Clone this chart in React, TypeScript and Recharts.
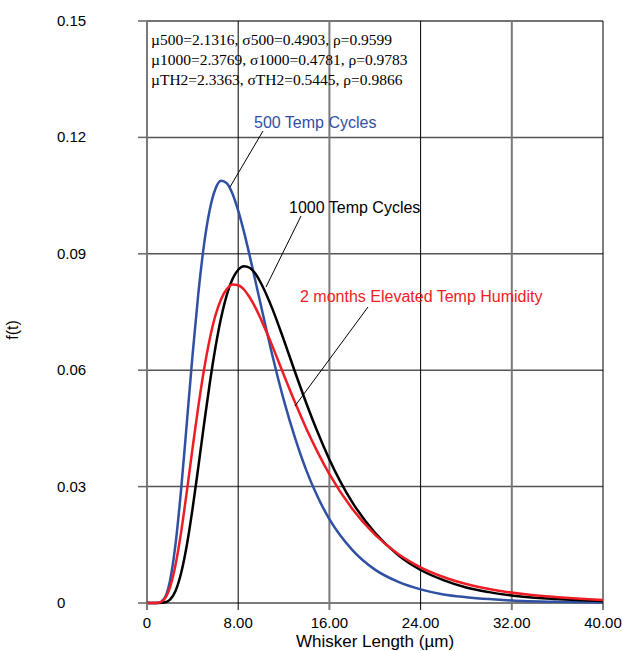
import { LineChart, Line, XAxis, YAxis, ReferenceLine } from "recharts";

// whisker length (µm) and lognormal pdf values
const X_VALUES = [
  0, 0.5, 1, 1.5, 2, 2.5, 3, 3.5, 4, 4.5, 5, 5.5, 6, 6.5, 7, 7.5, 8, 8.5, 9,
  9.5, 10, 11, 12, 13, 14, 15, 16, 18, 20, 22, 24, 26, 28, 30, 33, 36, 40,
];
const CYCLES_500 = [
  0, 0, 0.00006, 0.0011, 0.0055, 0.0151, 0.0295, 0.0466, 0.0641, 0.0797,
  0.0923, 0.1013, 0.1067, 0.1088, 0.1082, 0.1055, 0.1011, 0.0957, 0.0896,
  0.0831, 0.0766, 0.0638, 0.0523, 0.0424, 0.034, 0.0272, 0.0216, 0.0137,
  0.0086, 0.0055, 0.0035, 0.0022, 0.0015, 0.001, 0.0005, 0.0003, 0.0001,
];
const CYCLES_1000 = [
  0, 0, 0, 0.0001, 0.0008, 0.0031, 0.0078, 0.015, 0.0244, 0.035, 0.046,
  0.0565, 0.0658, 0.0735, 0.0794, 0.0835, 0.0859, 0.0868, 0.0864, 0.0849,
  0.0824, 0.0758, 0.0678, 0.0594, 0.0513, 0.0438, 0.037, 0.026, 0.0181,
  0.0124, 0.0085, 0.0059, 0.004, 0.0028, 0.0016, 0.001, 0.0005,
];
const TH2_MONTHS = [
  0, 0, 0.00007, 0.0009, 0.0039, 0.0098, 0.0184, 0.0289, 0.04, 0.0506,
  0.0601, 0.068, 0.0741, 0.0783, 0.0809, 0.0821, 0.0819, 0.0808, 0.0788,
  0.0762, 0.0731, 0.0662, 0.0588, 0.0516, 0.0448, 0.0387, 0.0332, 0.0243,
  0.0176, 0.0127, 0.0092, 0.0067, 0.0049, 0.0036, 0.0023, 0.0015, 0.0008,
];
const X_TICKS = [0, 8, 16, 24, 32, 40];
const Y_TICKS = [0, 0.03, 0.06, 0.09, 0.12, 0.15];
const FIT_NOTES = [
  "µ500=2.1316, σ500=0.4903, ρ=0.9599",
  "µ1000=2.3769, σ1000=0.4781, ρ=0.9783",
  "µTH2=2.3363, σTH2=0.5445, ρ=0.9866",
];

const W = 622;
const H = 651;
const PLOT_LEFT = 147;
const PLOT_TOP = 21;
const PLOT_RIGHT = 603;
const PLOT_BOTTOM = 603;

const BLUE = "#3050a3";
const RED = "#ee1c24";
const SANS = "'Liberation Sans', Arial, sans-serif";
const SERIF = "'Liberation Serif', 'Times New Roman', serif";

const data = X_VALUES.map((x, i) => ({
  x,
  c500: CYCLES_500[i],
  c1000: CYCLES_1000[i],
  th2: TH2_MONTHS[i],
}));

const XTick = (props: any) => {
  const { x, payload } = props;
  const v = payload.value;
  const dark = v % 16 !== 0;
  return (
    <g>
      <line
        x1={x}
        x2={x}
        y1={PLOT_BOTTOM}
        y2={PLOT_BOTTOM + 7}
        stroke={dark ? "#000" : "#7a7a7a"}
        strokeWidth={dark ? 1 : 2}
      />
      <text
        x={x}
        y={PLOT_BOTTOM + 25}
        textAnchor="middle"
        fontFamily={SANS}
        fontSize={15}
        fill="#000"
      >
        {v === 0 ? "0" : v.toFixed(2)}
      </text>
    </g>
  );
};

const YTick = (props: any) => {
  const { y, payload } = props;
  const v = payload.value;
  return (
    <g>
      <line
        x1={PLOT_LEFT - 9}
        x2={PLOT_LEFT}
        y1={y}
        y2={y}
        stroke="#666"
        strokeWidth={1.5}
      />
      <text
        x={57}
        y={y + 5}
        textAnchor="start"
        fontFamily={SANS}
        fontSize={15}
        fill="#000"
      >
        {v === 0 ? "0" : v.toFixed(2)}
      </text>
    </g>
  );
};

export default function App() {
  return (
    <div
      style={{
        position: "absolute",
        left: 0,
        top: 0,
        width: W,
        height: H,
        background: "#fff",
      }}
    >
      <LineChart
        width={W}
        height={H}
        data={data}
        margin={{ top: PLOT_TOP, right: W - PLOT_RIGHT, bottom: 0, left: 57 }}
      >
        <XAxis
          dataKey="x"
          type="number"
          domain={[0, 40]}
          ticks={X_TICKS}
          height={H - PLOT_BOTTOM}
          axisLine={false}
          tickLine={false}
          tick={XTick}
        />
        <YAxis
          type="number"
          domain={[0, 0.15]}
          ticks={Y_TICKS}
          width={PLOT_LEFT - 57}
          axisLine={false}
          tickLine={false}
          tick={YTick}
        />
        {Y_TICKS.map((v) => (
          <ReferenceLine
            key={`h-${v}`}
            y={v}
            stroke={v === 0 ? "#7a7a7a" : v === 0.15 ? "#444" : "#555"}
            strokeWidth={v === 0 ? 2 : 1.5}
          />
        ))}
        {X_TICKS.map((v) => (
          <ReferenceLine
            key={`v-${v}`}
            x={v}
            stroke={v % 16 !== 0 ? "#000" : "#7a7a7a"}
            strokeWidth={v % 16 !== 0 ? 1 : 2}
          />
        ))}
        <Line
          dataKey="c500"
          type="monotone"
          stroke={BLUE}
          strokeWidth={2.5}
          dot={false}
          isAnimationActive={false}
        />
        <Line
          dataKey="c1000"
          type="monotone"
          stroke="#000"
          strokeWidth={2.5}
          dot={false}
          isAnimationActive={false}
        />
        <Line
          dataKey="th2"
          type="monotone"
          stroke={RED}
          strokeWidth={2.5}
          dot={false}
          isAnimationActive={false}
        />
      </LineChart>

      {/* annotations on top of the chart */}
      <svg
        width={W}
        height={H}
        style={{ position: "absolute", left: 0, top: 0, pointerEvents: "none" }}
      >
        {FIT_NOTES.map((t, i) => (
          <text
            key={t}
            x={151}
            y={45 + i * 20}
            fontFamily={SERIF}
            fontSize={15.5}
            fill="#000"
          >
            {t}
          </text>
        ))}
        <text x={254} y={128} fontFamily={SANS} fontSize={16} fill={BLUE}>
          500 Temp Cycles
        </text>
        <line x1={263} y1={131} x2={230} y2={187} stroke="#000" strokeWidth={1} />
        <text x={289} y={213} fontFamily={SANS} fontSize={16} fill="#000">
          1000 Temp Cycles
        </text>
        <line x1={301} y1={216} x2={266} y2={287} stroke="#000" strokeWidth={1} />
        <text x={300} y={302} fontFamily={SANS} fontSize={16} fill={RED}>
          2 months Elevated Temp Humidity
        </text>
        <line x1={368} y1={307} x2={295} y2={406} stroke="#000" strokeWidth={1} />
        <text
          x={0}
          y={0}
          transform="translate(18, 330) rotate(-90)"
          textAnchor="middle"
          fontFamily={SANS}
          fontSize={16}
          fill="#000"
        >
          f(t)
        </text>
        <text
          x={(PLOT_LEFT + PLOT_RIGHT) / 2}
          y={647}
          textAnchor="middle"
          fontFamily={SANS}
          fontSize={17}
          fill="#000"
        >
          Whisker Length (µm)
        </text>
      </svg>
    </div>
  );
}
